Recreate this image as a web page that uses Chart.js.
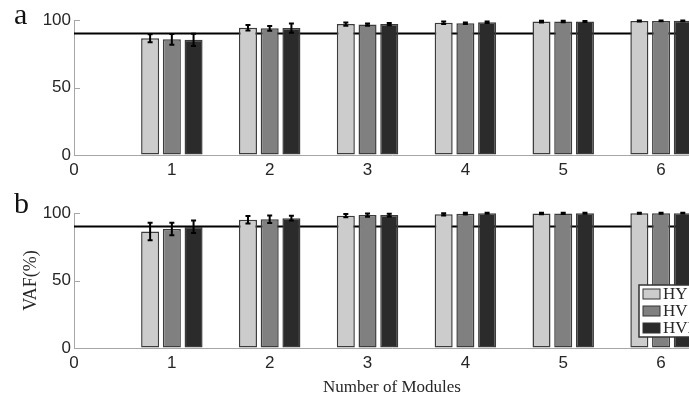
<!DOCTYPE html>
<html>
<head>
<meta charset="utf-8">
<script src="https://cdn.jsdelivr.net/npm/chart.js@4.4.0/dist/chart.umd.min.js"></script>
<style>
  html, body { margin: 0; padding: 0; background: #fff; overflow: hidden; width: 689px; height: 398px; }
  .panel { position: absolute; left: 0; width: 710px; }
  #wrapA { top: 0; height: 185px; }
  #wrapB { top: 185px; height: 213px; }
  .tag { position: absolute; left: 14px; font-family: "Liberation Serif", serif; font-size: 30px; line-height: 1; color: #111; }
</style>
</head>
<body>
<div class="panel" id="wrapA"><canvas id="chartA"></canvas></div>
<div class="panel" id="wrapB"><canvas id="chartB"></canvas></div>
<div class="tag" style="top:-1px">a</div>
<div class="tag" style="top:188px">b</div>
<script>
const modules = [1, 2, 3, 4, 5, 6];
const xTicks = [0, 1, 2, 3, 4, 5, 6];
const yTicks = [0, 50, 100];
const seriesNames = ["HY", "HV", "HVI"];
const seriesColors = ["#cccccc", "#808080", "#2b2b2b"];
const threshold = 90;

// panel a
const hyA = [86.5, 94.3, 97.0, 98.0, 98.8, 99.3];
const hvA = [85.7, 93.8, 96.6, 97.6, 98.9, 99.3];
const hviA = [85.3, 94.0, 97.0, 98.3, 98.9, 99.4];
const hyErrA = [3.0, 2.0, 1.2, 0.9, 0.6, 0.4];
const hvErrA = [4.0, 1.8, 0.8, 0.6, 0.5, 0.3];
const hviErrA = [4.6, 3.5, 0.8, 0.5, 0.4, 0.3];

// panel b
const hyB = [86.3, 95.0, 98.0, 99.0, 99.6, 99.8];
const hvB = [88.1, 95.4, 98.5, 99.5, 99.7, 99.8];
const hviB = [89.8, 96.2, 98.5, 99.8, 99.8, 99.9];
const hyErrB = [6.5, 2.8, 1.2, 0.8, 0.5, 0.3];
const hvErrB = [4.6, 2.8, 1.2, 0.6, 0.4, 0.3];
const hviErrB = [4.6, 1.8, 1.0, 0.4, 0.3, 0.2];

const errorBars = {
  id: "errorBars",
  afterDatasetsDraw(chart) {
    const ctx = chart.ctx;
    const y = chart.scales.y;
    chart.data.datasets.forEach((ds, i) => {
      if (!ds.errors) return;
      chart.getDatasetMeta(i).data.forEach((bar, j) => {
        const v = ds.data[j].y, e = ds.errors[j];
        const top = y.getPixelForValue(v + e), bot = y.getPixelForValue(v - e);
        ctx.save();
        ctx.strokeStyle = "#000";
        ctx.lineWidth = 2;
        ctx.beginPath();
        ctx.moveTo(bar.x, top); ctx.lineTo(bar.x, bot);
        ctx.moveTo(bar.x - 2.5, top); ctx.lineTo(bar.x + 2.5, top);
        ctx.moveTo(bar.x - 2.5, bot); ctx.lineTo(bar.x + 2.5, bot);
        ctx.stroke();
        ctx.restore();
      });
    });
  }
};

// inward tick marks on the y axis, like the original
const innerTicks = {
  id: "innerTicks",
  beforeDatasetsDraw(chart) {
    const ctx = chart.ctx, y = chart.scales.y, left = chart.chartArea.left;
    ctx.save();
    ctx.strokeStyle = "#a6a6a6";
    ctx.lineWidth = 1;
    yTicks.forEach(t => {
      const py = Math.round(y.getPixelForValue(t)) + 0.5;
      ctx.beginPath(); ctx.moveTo(left, py); ctx.lineTo(left + 6, py); ctx.stroke();
    });
    ctx.restore();
  }
};

const boxLegend = {
  id: "boxLegend",
  afterDraw(chart) {
    if (!chart.options.plugins.boxLegend.show) return;
    const ctx = chart.ctx;
    const x0 = 639, y0 = 100, w = 72, h = 52;
    ctx.save();
    ctx.fillStyle = "#fff";
    ctx.fillRect(x0, y0, w, h);
    ctx.strokeStyle = "#333";
    ctx.lineWidth = 1.5;
    ctx.strokeRect(x0, y0, w, h);
    chart.data.datasets.filter(d => d.type !== "line").forEach((ds, k) => {
      const cy = y0 + 9 + k * 17;
      ctx.fillStyle = ds.backgroundColor;
      ctx.fillRect(x0 + 4, cy - 5, 17, 10);
      ctx.strokeStyle = "#333";
      ctx.lineWidth = 1;
      ctx.strokeRect(x0 + 4, cy - 5, 17, 10);
      ctx.fillStyle = "#262626";
      ctx.font = '17px "Liberation Serif"';
      ctx.textBaseline = "middle";
      ctx.fillText(ds.label, x0 + 24, cy + 1);
    });
    ctx.restore();
  }
};

function makeChart(id, values, errors, padTop, xHeight, xTitle, yTitle, showLegend) {
  const datasets = seriesNames.map((name, k) => ({
    type: "bar",
    label: name,
    data: modules.map((m, i) => ({ x: m, y: values[k][i] })),
    errors: errors[k],
    backgroundColor: seriesColors[k],
    borderColor: "#3c3c3c",
    borderWidth: 1.5,
    borderSkipped: false,
    categoryPercentage: 0.666,
    barPercentage: 0.83,
    order: 1
  }));
  datasets.push({
    type: "line",
    label: "threshold",
    data: [{ x: 0, y: threshold }, { x: 6.5, y: threshold }],
    borderColor: "#000",
    borderWidth: 2,
    pointRadius: 0,
    order: 5
  });
  return new Chart(document.getElementById(id), {
    type: "bar",
    data: { datasets },
    options: {
      responsive: true,
      maintainAspectRatio: false,
      animation: false,
      layout: { padding: { top: padTop, left: 0, right: 0, bottom: 0 } },
      plugins: { legend: { display: false }, tooltip: { enabled: false }, boxLegend: { show: showLegend } },
      scales: {
        x: {
          type: "linear", min: 0, max: 6.5, offset: false,
          afterBuildTicks: s => { s.ticks = xTicks.map(v => ({ value: v })); },
          afterFit: s => { s.height = xHeight; },
          grid: { display: true, drawOnChartArea: false, drawTicks: false },
          border: { display: true, color: "#a6a6a6", width: 1 },
          ticks: { font: { family: "Liberation Sans", size: 17 }, color: "#262626", padding: 5, maxRotation: 0, autoSkip: false },
          title: { display: !!xTitle, text: xTitle, font: { family: "Liberation Serif", size: 17 }, color: "#262626", padding: { top: 2, bottom: 0 } }
        },
        y: {
          min: 0, max: 100,
          afterBuildTicks: s => { s.ticks = yTicks.map(v => ({ value: v })); },
          afterFit: s => { s.width = 74; },
          grid: { display: true, drawOnChartArea: false, drawTicks: false },
          border: { display: true, color: "#a6a6a6", width: 1 },
          ticks: { font: { family: "Liberation Sans", size: 17 }, color: "#262626", padding: 3 },
          title: { display: !!yTitle, text: yTitle, font: { family: "Liberation Serif", size: 18 }, color: "#262626", padding: { top: 20, bottom: 0 } }
        }
      }
    },
    plugins: [errorBars, innerTicks, boxLegend]
  });
}

makeChart("chartA", [hyA, hvA, hviA], [hyErrA, hvErrA, hviErrA], 20, 30, "", "", false);
makeChart("chartB", [hyB, hvB, hviB], [hyErrB, hvErrB, hviErrB], 28, 50, "Number of Modules", "VAF(%)", true);
</script>
</body>
</html>
